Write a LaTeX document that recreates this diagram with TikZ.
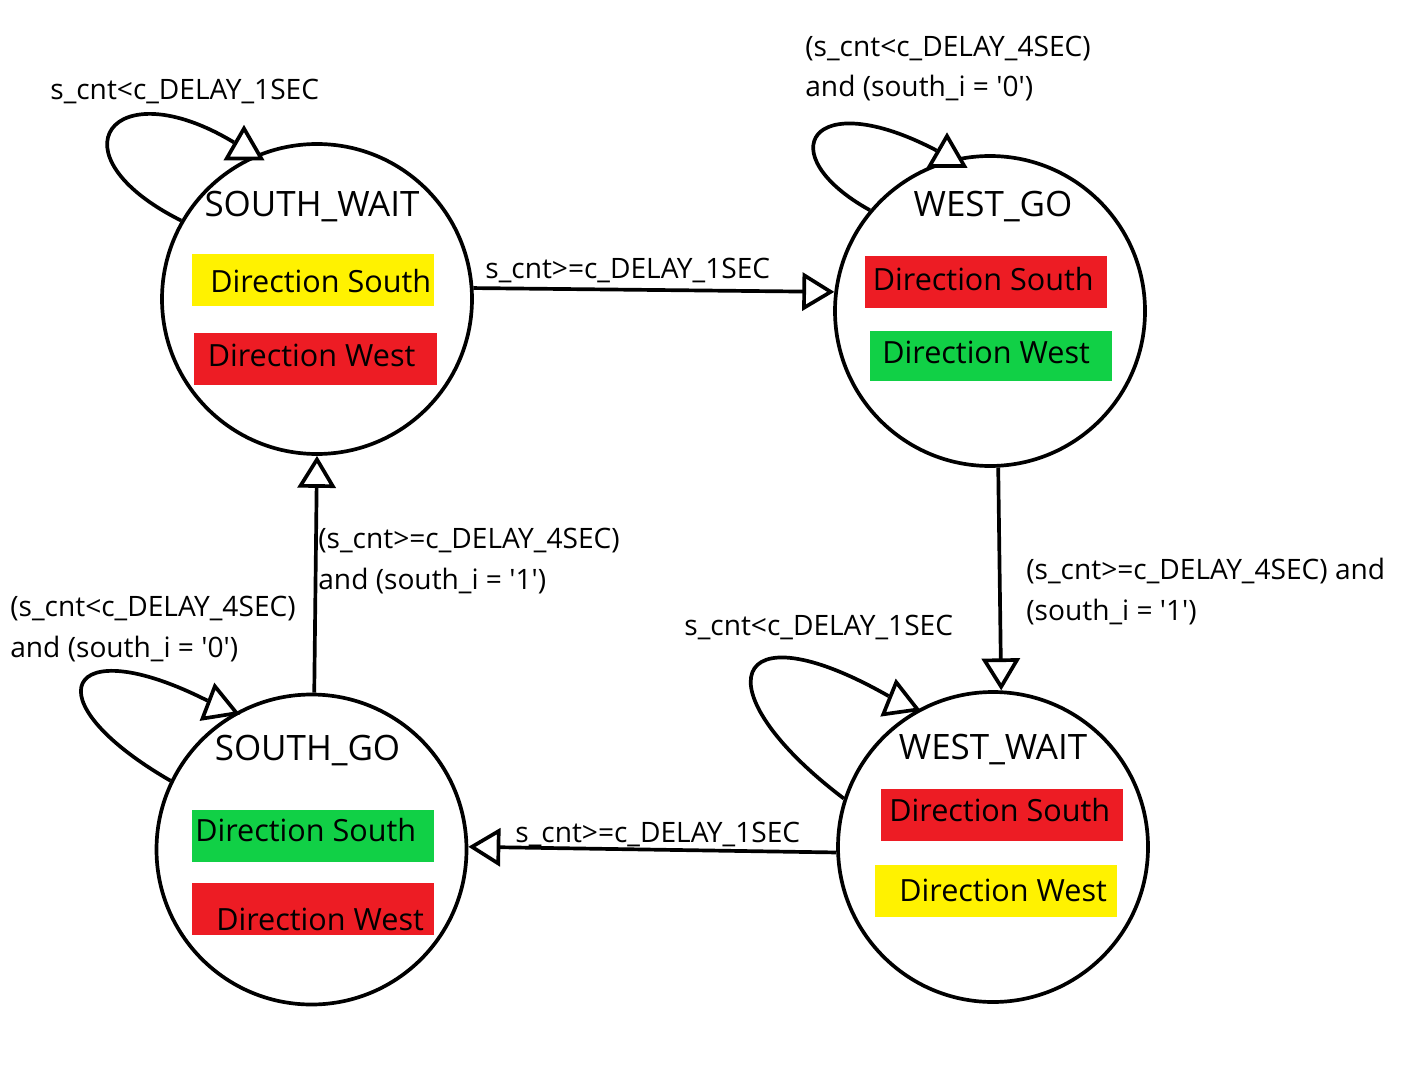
\documentclass[tikz,border=0pt]{standalone}
\usepackage{fontspec}
\setmainfont{Open Sans}[Ligatures=TeXOff]
\usetikzlibrary{arrows.meta,shapes.geometric}

\definecolor{lampred}{HTML}{ED1C24}
\definecolor{lampyellow}{HTML}{FFF200}
\definecolor{lampgreen}{HTML}{11D046}

\begin{document}
\begin{tikzpicture}[
  state/.style={circle, draw, line width=2.1pt, minimum size=6.2cm, inner sep=0pt},
  statename/.style={anchor=base, inner sep=0pt, font=\fontsize{19.9pt}{24pt}\selectfont},
  lamp/.style={rectangle, minimum width=4.84cm, minimum height=1.04cm, inner sep=0pt},
  lamptext/.style={anchor=base west, inner sep=0pt, font=\fontsize{17.4pt}{20pt}\selectfont},
  cond/.style={anchor=base west, inner sep=0pt, align=left, font=\fontsize{16pt}{22.8pt}\selectfont},
  flow/.style={line width=2.1pt, -{Triangle[open, length=0.64cm, width=0.76cm]}},
  selfloop/.style={line width=2.1pt},
  tri/.style={regular polygon, regular polygon sides=3, draw, fill=white, line width=2.1pt, minimum size=0.8cm, inner sep=0pt}
]
\useasboundingbox (0,0) rectangle (28.04,-21.6);
% States
\node[state] (sw) at (6.34,-5.98) {};
\node[state] (wg) at (19.80,-6.22) {};
\node[state] (sg) at (6.23,-16.99) {};
\node[state] (ww) at (19.86,-16.94) {};
\node[statename] (swname) at (6.24,-4.34) {SOUTH\_WAIT};
\node[statename] (wgname) at (19.86,-4.34) {WEST\_GO};
\node[statename] (sgname) at (6.15,-15.20) {SOUTH\_GO};
\node[statename] (wwname) at (19.86,-15.18) {WEST\_WAIT};
% Lamps SOUTH_WAIT
\node[lamp, fill=lampyellow] (swsouth) at (6.26,-5.60) {};
\node[lamp, fill=lampred, minimum width=4.86cm] (swwest) at (6.31,-7.18) {};
\node[lamptext] (swsouthtxt) at (4.20,-5.86) {Direction South};
\node[lamptext] (swwesttxt) at (4.15,-7.33) {Direction West};
% Lamps WEST_GO
\node[lamp, fill=lampred] (wgsouth) at (19.72,-5.65) {};
\node[lamp, fill=lampgreen, minimum height=1.0cm] (wgwest) at (19.81,-7.12) {};
\node[lamptext] (wgsouthtxt) at (17.45,-5.81) {Direction South};
\node[lamptext] (wgwesttxt) at (17.64,-7.26) {Direction West};
% Lamps SOUTH_GO
\node[lamp, fill=lampgreen] (sgsouth) at (6.26,-16.72) {};
\node[lamp, fill=lampred] (sgwest) at (6.26,-18.18) {};
\node[lamptext] (sgsouthtxt) at (3.90,-16.83) {Direction South};
\node[lamptext] (sgwesttxt) at (4.32,-18.60) {Direction West};
% Lamps WEST_WAIT
\node[lamp, fill=lampred] (wwsouth) at (20.04,-16.30) {};
\node[lamp, fill=lampyellow] (wwwest) at (19.92,-17.82) {};
\node[lamptext] (wwsouthtxt) at (17.78,-16.42) {Direction South};
\node[lamptext] (wwwesttxt) at (17.98,-18.02) {Direction West};
% Transitions
\draw[flow] (sw.4) -- (wg.173);
\draw[flow] (wg.-87) -- (ww.87);
\draw[flow] (ww.182) -- (sg.1);
\draw[flow] (sg.89) -- (sw.-90);
% Self loops
\node[tri] (swtri) at (4.88,-2.97) {};
\node[tri] (wgtri) at (18.94,-3.12) {};
\node[tri, shape border rotate=9] (sgtri) at (4.36,-14.12) {};
\node[tri, shape border rotate=8] (wwtri) at (17.98,-14.04) {};
\draw[selfloop] (sw.150) .. controls +(-2.66,1.33) and +(-2.64,1.60) .. (swtri);
\draw[selfloop] (wg.140) .. controls +(-2.02,1.12) and +(-2.74,1.44) .. (wgtri);
\draw[selfloop] (sg.154) .. controls +(-2.84,1.64) and +(-3.04,1.54) .. (sgtri);
\draw[selfloop] (ww.162) .. controls +(-2.88,2.18) and +(-3.40,1.94) .. (wwtri);
% Conditions
\node[cond] (swloop) at (1.00,-2.00) {s\_cnt<c\_DELAY\_1SEC};
\node[cond] (wgloop) at (16.10,-1.94) {(s\_cnt<c\_DELAY\_4SEC)\\and (south\_i = '0')};
\node[cond] (sgloop) at (0.20,-13.14) {(s\_cnt<c\_DELAY\_4SEC)\\and (south\_i = '0')};
\node[cond] (wwloop) at (13.68,-12.70) {s\_cnt<c\_DELAY\_1SEC};
\node[cond] (swwg) at (9.70,-5.58) {s\_cnt>=c\_DELAY\_1SEC};
\node[cond] (wgww) at (20.52,-12.40) {(s\_cnt>=c\_DELAY\_4SEC) and\\(south\_i = '1')};
\node[cond] (wwsg) at (10.30,-16.84) {s\_cnt>=c\_DELAY\_1SEC};
\node[cond] (sgsw) at (6.36,-11.78) {(s\_cnt>=c\_DELAY\_4SEC)\\and (south\_i = '1')};
\end{tikzpicture}
\end{document}
